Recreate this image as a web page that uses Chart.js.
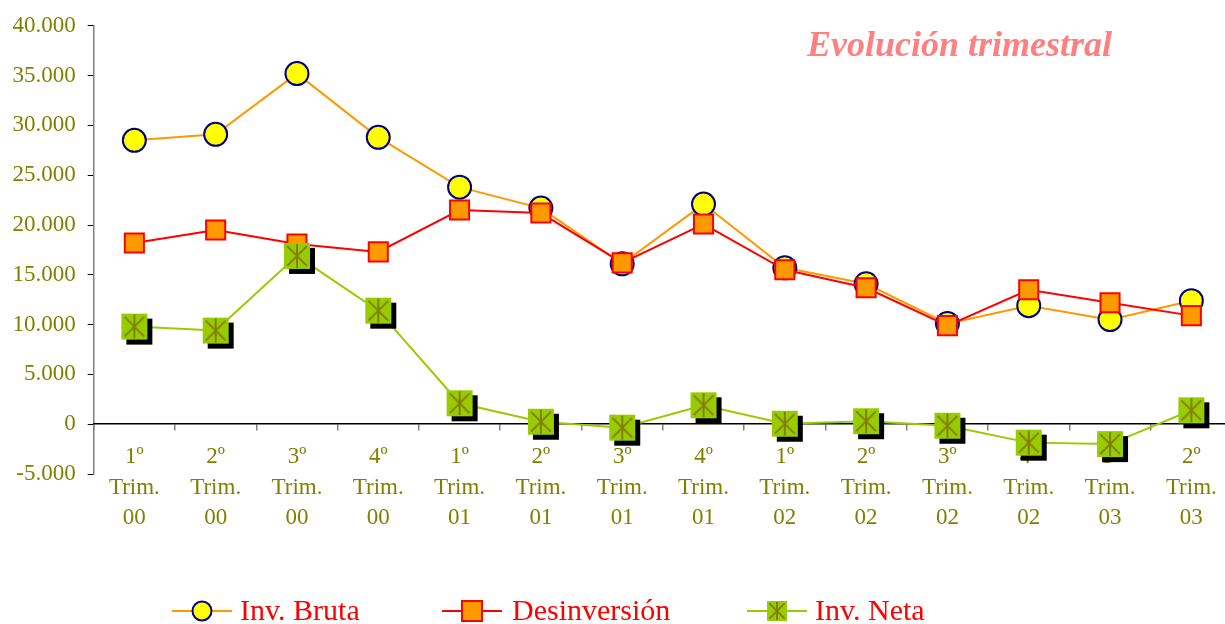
<!DOCTYPE html>
<html>
<head>
<meta charset="utf-8">
<script src="https://cdn.jsdelivr.net/npm/chart.js"></script>
<style>
  html, body { margin: 0; padding: 0; background: #fff; overflow: hidden; }
  #wrap { width: 1225px; height: 624px; overflow: hidden; }
  canvas { display: block; }
</style>
</head>
<body>
<div id="wrap"><canvas id="chart" width="1248" height="624"></canvas></div>
<script>
const categories = [
  ["1º", "Trim.", "00"], ["2º", "Trim.", "00"], ["3º", "Trim.", "00"], ["4º", "Trim.", "00"],
  ["1º", "Trim.", "01"], ["2º", "Trim.", "01"], ["3º", "Trim.", "01"], ["4º", "Trim.", "01"],
  ["1º", "Trim.", "02"], ["2º", "Trim.", "02"], ["3º", "Trim.", "02"], ["4º", "Trim.", "02"],
  ["1º", "Trim.", "03"], ["2º", "Trim.", "03"]
];
const invBruta = [28500, 29100, 35200, 28800, 23800, 21700, 16100, 22100, 15700, 14100, 10100, 11900, 10500, 12400];
const desinversion = [18200, 19500, 18100, 17300, 21500, 21200, 16200, 20100, 15500, 13700, 9900, 13500, 12200, 10900];
const invNeta = [9800, 9400, 16900, 11400, 2100, 250, -350, 1900, 50, 300, -150, -1850, -2000, 1400];
const seriesNames = ["Inv. Bruta", "Desinversión", "Inv. Neta"];
const titleText = "Evolución trimestral";

const olive = "#808000";
const serif = '"Liberation Serif", "Times New Roman", serif';

// green square with asterisk, optional black shadow
function netaMarker(side, shadow) {
  const c = document.createElement("canvas");
  const size = Math.ceil(side + 2 * shadow + 2);
  c.width = size; c.height = size;
  const g = c.getContext("2d");
  const x0 = (size - side) / 2, y0 = (size - side) / 2;
  if (shadow) {
    g.fillStyle = "#000";
    g.fillRect(x0 + shadow, y0 + shadow, side, side);
  }
  g.fillStyle = "#99CC00";
  g.fillRect(x0, y0, side, side);
  g.strokeStyle = olive;
  g.lineWidth = 2;
  const m = side * 0.12;
  g.beginPath();
  g.moveTo(x0 + m, y0 + m); g.lineTo(x0 + side - m, y0 + side - m);
  g.moveTo(x0 + side - m, y0 + m); g.lineTo(x0 + m, y0 + side - m);
  g.moveTo(x0 + side / 2, y0 + 1); g.lineTo(x0 + side / 2, y0 + side - 1);
  g.stroke();
  return c;
}

function fmt(v) {
  const s = Math.abs(v).toString().replace(/\B(?=(\d{3})+(?!\d))/g, ".");
  return (v < 0 ? "-" : "") + s;
}

const extras = {
  id: "extras",
  afterDraw(chart) {
    const ctx = chart.ctx;
    ctx.save();
    // title
    ctx.font = "bold italic 36px " + serif;
    ctx.fillStyle = "#FF8080";
    ctx.textAlign = "left";
    ctx.textBaseline = "middle";
    ctx.fillText(titleText, 807, 47);

    // legend
    const y = 611;
    ctx.font = "30px " + serif;
    ctx.textBaseline = "middle";
    const items = [
      { x: 172, color: "#FF9900", kind: "circle", tx: 240 },
      { x: 442, color: "#FF0000", kind: "rect", tx: 512 },
      { x: 747, color: "#99CC00", kind: "neta", tx: 815 }
    ];
    items.forEach((it, i) => {
      ctx.strokeStyle = it.color;
      ctx.lineWidth = 2;
      ctx.beginPath();
      ctx.moveTo(it.x, y); ctx.lineTo(it.x + 60, y);
      ctx.stroke();
      const cx = it.x + 30;
      if (it.kind === "circle") {
        ctx.beginPath();
        ctx.arc(cx, y, 9.5, 0, Math.PI * 2);
        ctx.fillStyle = "#FFFF00";
        ctx.fill();
        ctx.strokeStyle = "#000080";
        ctx.lineWidth = 2;
        ctx.stroke();
      } else if (it.kind === "rect") {
        ctx.fillStyle = "#FF9900";
        ctx.fillRect(cx - 10, y - 10, 20, 20);
        ctx.strokeStyle = "#FF0000";
        ctx.lineWidth = 2;
        ctx.strokeRect(cx - 10, y - 10, 20, 20);
      } else {
        const mk = netaMarker(20, 0);
        ctx.drawImage(mk, cx - mk.width / 2, y - mk.height / 2);
      }
      ctx.fillStyle = "#FF0000";
      ctx.fillText(seriesNames[i], it.tx, y + 1);
    });
    ctx.restore();
  }
};

new Chart(document.getElementById("chart"), {
  type: "line",
  data: {
    labels: categories,
    datasets: [
      {
        label: seriesNames[0],
        data: invBruta,
        borderColor: "#FF9900",
        borderWidth: 2,
        pointStyle: "circle",
        pointRadius: 11.5,
        pointBackgroundColor: "#FFFF00",
        pointBorderColor: "#000080",
        pointBorderWidth: 2,
        order: 3
      },
      {
        label: seriesNames[1],
        data: desinversion,
        borderColor: "#FF0000",
        borderWidth: 2,
        pointStyle: "rect",
        pointRadius: 13.5,
        pointBackgroundColor: "#FF9900",
        pointBorderColor: "#FF0000",
        pointBorderWidth: 2,
        order: 2
      },
      {
        label: seriesNames[2],
        data: invNeta,
        borderColor: "#99CC00",
        borderWidth: 2,
        pointStyle: netaMarker(26, 5),
        pointRadius: 14,
        order: 1
      }
    ]
  },
  options: {
    responsive: false,
    animation: false,
    devicePixelRatio: 1,
    events: [],
    layout: { padding: { top: 18, right: 7, bottom: 150, left: 0 } },
    plugins: { legend: { display: false }, tooltip: { enabled: false } },
    elements: { line: { tension: 0 } },
    scales: {
      y: {
        min: -5000,
        max: 40000,
        ticks: {
          stepSize: 5000,
          color: olive,
          padding: 12,
          font: { family: serif, size: 23 },
          callback: (v) => fmt(v)
        },
        grid: { drawOnChartArea: false, tickLength: 6, color: "#000", lineWidth: 1 },
        border: { color: "#808080", width: 1.5 },
        afterFit: (s) => { s.width = 93.7; }
      },
      x: {
        position: { y: 0 },
        offset: true,
        ticks: {
          color: olive,
          padding: 12,
          maxRotation: 0,
          autoSkip: false,
          font: { family: serif, size: 23, lineHeight: 1.32 }
        },
        grid: { offset: true, drawOnChartArea: false, tickLength: 6, color: "#808080", lineWidth: 1.5 },
        border: { color: "#000", width: 1.5 }
      }
    }
  },
  plugins: [extras]
});
</script>
</body>
</html>
